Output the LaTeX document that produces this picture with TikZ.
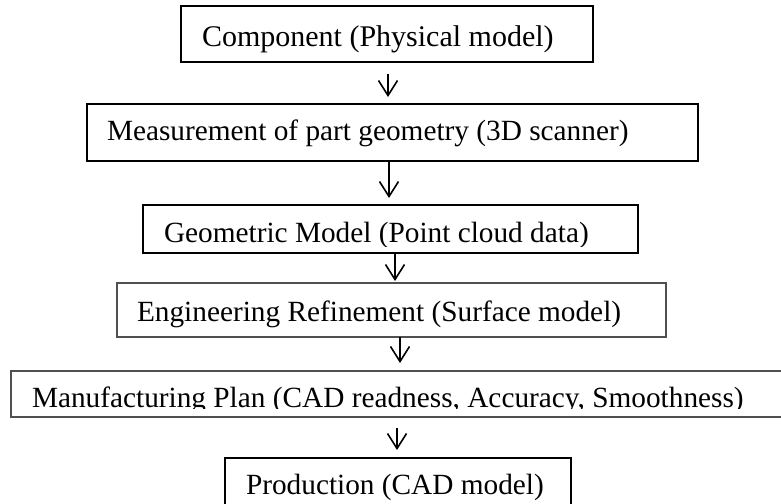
\documentclass[tikz,border=0pt]{standalone}
\usepackage{fontspec}
\setmainfont{Liberation Serif}
\usetikzlibrary{arrows.meta,calc}
\definecolor{boxgray}{RGB}{80,80,80}
\begin{document}
\begin{tikzpicture}[x=1pt,y=-1pt,
  box/.style={draw=black, line width=1.3pt, rectangle, inner sep=0pt, outer sep=0pt},
  gbox/.style={box, draw=boxgray, line width=2pt},
  txt/.style={anchor=base west, inner sep=0pt, outer sep=0pt, text=black, font=\fontsize{29.3}{35}\selectfont},
  arr/.style={draw=black, line width=1.6pt, -{Straight Barb[length=15pt,width=19pt]}}]
\useasboundingbox (0,0) rectangle (781,503);
\clip (0,0) rectangle (781,503);

% boxes
\node[box, minimum width=412pt, minimum height=56pt] (b1) at (387,34) {};
\node[box, minimum width=611pt, minimum height=57pt] (b2) at (392.5,132.5) {};
\node[box, minimum width=495pt, minimum height=48pt] (b3) at (390.5,229) {};
\node[gbox, minimum width=549pt, minimum height=54pt] (b4) at (391.5,310) {};
\node[gbox, minimum width=779pt, minimum height=46pt] (b5) at (400.5,394) {};
\node[box, minimum width=346pt, minimum height=62pt] (b6) at (398,489) {};

% texts
\node[txt, font=\fontsize{30}{36}\selectfont] (t1) at (202,47) {Component (Physical model)};
\node[txt] (t2) at (107,140) {Measurement of part geometry (3D scanner)};
\begin{scope}
  \clip (b3.north west) rectangle ($(b3.south east)+(0,-7)$);
  \node[txt] (t3) at (164,242) {Geometric Model (Point cloud data)};
\end{scope}
\node[txt] (t4) at (137,321) {Engineering Refinement (Surface model)};
\begin{scope}
  \clip (b5.north west) rectangle ($(b5.south east)+(0,-9)$);
  \node[txt] (t5) at (32,407) {Manufacturing Plan (CAD readness, Accuracy, Smoothness)};
\end{scope}
\node[txt] (t6) at (246,494) {Production (CAD model)};

% arrows
\draw[arr] ($(b1.south)+(1,12)$) -- ($(b2.north)+(-4.5,-7)$);
\draw[arr] ($(b2.south)+(-3.5,0)$) -- ($(b3.north)+(-1.5,-7)$);
\draw[arr] ($(b3.south)+(4.5,0)$) -- ($(b4.north)+(3.5,-2)$);
\draw[arr] ($(b4.south)+(8.5,0)$) -- ($(b5.north)+(-0.5,-8)$);
\draw[arr] ($(b5.south)+(-3.5,11)$) -- ($(b6.north)+(-1,-8)$);
\end{tikzpicture}
\end{document}
